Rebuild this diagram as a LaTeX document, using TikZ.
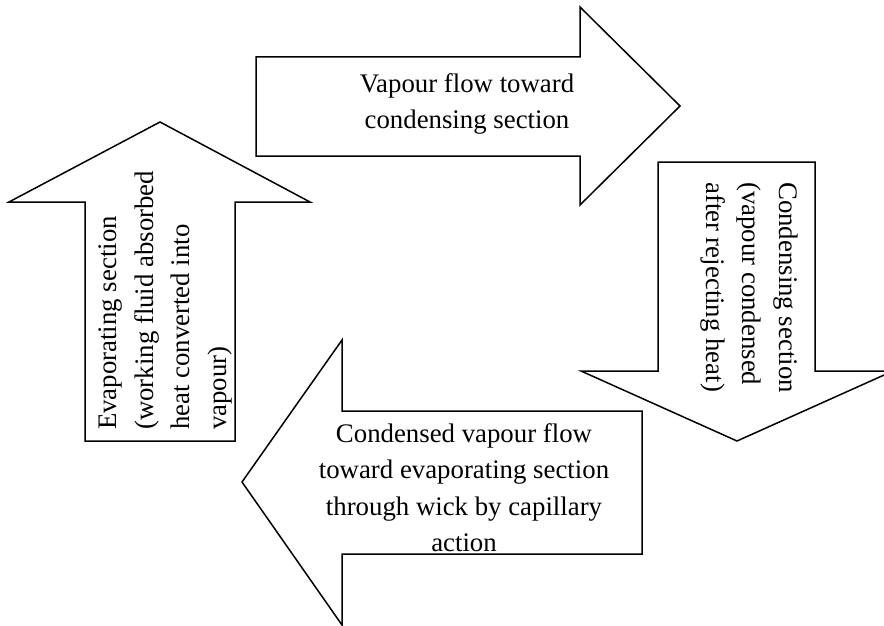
\documentclass[tikz,border=0pt]{standalone}
\usepackage{fontspec}
\setmainfont{Liberation Serif}

\begin{document}
\begin{tikzpicture}[x=1pt, y=-1pt,
    blockarrow/.style={draw, line width=1.5pt, fill=white},
    every node/.style={inner sep=0pt, font=\fontsize{26.8}{36.5}\selectfont}]

\useasboundingbox (0,0) rectangle (884,626);

% Evaporating section (arrow pointing up)
\draw[blockarrow] (85,441) -- (85,202) -- (9,202) -- (160,122) -- (310,202) -- (235,202) -- (235,441) -- cycle;
\begin{scope}
    \clip (0,0) rectangle (235,441);
    \node[rotate=90, align=left, anchor=north west] (evap) at (99,430) {Evaporating section\\(working fluid absorbed\\heat converted into\\vapour)};
\end{scope}

% Vapour flow (arrow pointing right)
\draw[blockarrow] (256,57) -- (580,57) -- (580,7) -- (680,106) -- (580,205) -- (580,156) -- (256,156) -- cycle;
\node[align=center, anchor=north] (vflow) at (467,73) {Vapour flow toward\\condensing section};

% Condensing section (arrow pointing down)
\draw[blockarrow] (658,162) -- (815,162) -- (815,371) -- (893,371) -- (737,441) -- (581,371) -- (658,371) -- cycle;
\node[rotate=-90, align=left, anchor=north west] (cond) at (798,182) {Condensing section\\(vapour condensed\\after rejecting heat)};

% Condensed vapour flow (arrow pointing left)
\draw[blockarrow] (642,411) -- (342,411) -- (342,340) -- (242,482) -- (342,625) -- (342,554) -- (642,554) -- cycle;
\node[align=center, anchor=north] (cflow) at (464,423) {Condensed vapour flow\\toward evaporating section\\through wick by capillary\\action};

\end{tikzpicture}
\end{document}
